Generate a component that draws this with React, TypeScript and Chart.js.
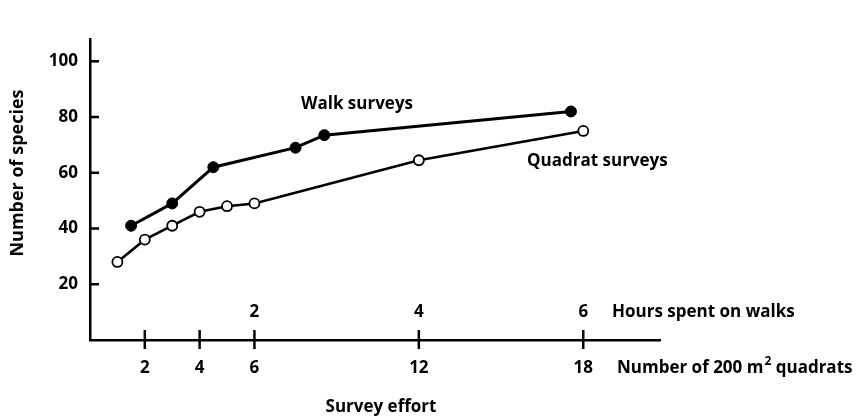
import React, { useEffect, useRef } from "react";
import { Chart, registerables } from "chart.js";

Chart.register(...registerables);

// ---- data ----
const quadratCounts = [1, 2, 3, 4, 5, 6, 12, 18];
const quadratSpecies = [28, 36, 41, 46, 48, 49, 64.5, 75];
const walkHours = [0.5, 1, 1.5, 2.5, 2.85, 5.85];
const walkSpecies = [41, 49, 62, 69, 73.5, 82];
const quadratTicks = [2, 4, 6, 12, 18];
const hourTicks = [2, 4, 6];
const speciesTicks = [20, 40, 60, 80, 100];
const QUADRATS_PER_HOUR = 3;

const FAMILY = "'Open Sans', Lato, sans-serif";
const FS = 17;

const extrasPlugin = {
  id: "extras",
  afterDraw(chart: any) {
    const { ctx, chartArea } = chart;
    const xs = chart.scales.x;
    const ys = chart.scales.y;
    ctx.save();
    ctx.strokeStyle = "#000";
    ctx.fillStyle = "#000";
    ctx.lineWidth = 2.5;
    // y tick marks (inward)
    for (const v of speciesTicks) {
      const y = ys.getPixelForValue(v);
      ctx.beginPath();
      ctx.moveTo(chartArea.left, y);
      ctx.lineTo(chartArea.left + 9, y);
      ctx.stroke();
    }
    // x tick marks (crossing)
    for (const q of quadratTicks) {
      const x = xs.getPixelForValue(q);
      ctx.beginPath();
      ctx.moveTo(x, chartArea.bottom - 10);
      ctx.lineTo(x, chartArea.bottom + 9);
      ctx.stroke();
    }
    ctx.font = `bold ${FS}px ${FAMILY}`;
    ctx.textBaseline = "middle";
    // hours labels
    ctx.textAlign = "center";
    for (const h of hourTicks) {
      const x = xs.getPixelForValue(h * QUADRATS_PER_HOUR);
      ctx.fillText(String(h), x, 312);
    }
    ctx.textAlign = "left";
    ctx.fillText("Hours spent on walks", 612, 312);
    // quadrat axis name with superscript
    let x0 = 617;
    const part1 = "Number of 200 m";
    ctx.fillText(part1, x0, 368);
    x0 += ctx.measureText(part1).width + 1;
    ctx.font = `bold ${Math.round(FS * 0.7)}px ${FAMILY}`;
    ctx.fillText("2", x0, 362);
    x0 += ctx.measureText("2").width;
    ctx.font = `bold ${FS}px ${FAMILY}`;
    ctx.fillText(" quadrats", x0, 368);
    // survey effort
    ctx.textAlign = "center";
    ctx.fillText("Survey effort", 381, 407);
    // series labels
    ctx.textAlign = "left";
    ctx.fillText("Walk surveys", 301, 104);
    ctx.fillText("Quadrat surveys", 527, 161);
    // y title
    ctx.font = `bold 18px ${FAMILY}`;
    ctx.translate(18, 173);
    ctx.rotate(-Math.PI / 2);
    ctx.textAlign = "center";
    ctx.fillText("Number of species", 0, 0);
    ctx.restore();
  },
};

export default function App() {
  const ref = useRef<HTMLCanvasElement>(null);
  useEffect(() => {
    if (!ref.current) return;
    const chart = new Chart(ref.current, {
      type: "line",
      data: {
        datasets: [
          {
            label: "Walk surveys",
            data: walkHours.map((h, i) => ({ x: h * QUADRATS_PER_HOUR, y: walkSpecies[i] })),
            borderColor: "#000",
            borderWidth: 3,
            pointRadius: 5.5,
            pointBackgroundColor: "#000",
            pointBorderColor: "#000",
            pointBorderWidth: 1,
            tension: 0,
          },
          {
            label: "Quadrat surveys",
            data: quadratCounts.map((q, i) => ({ x: q, y: quadratSpecies[i] })),
            borderColor: "#000",
            borderWidth: 2.5,
            pointRadius: 5,
            pointBackgroundColor: "#fff",
            pointBorderColor: "#000",
            pointBorderWidth: 1.8,
            tension: 0,
          },
        ],
      },
      options: {
        animation: false,
        responsive: false,
        maintainAspectRatio: false,
        layout: { padding: { top: 39, right: 203, left: 0, bottom: 0 } },
        plugins: { legend: { display: false }, tooltip: { enabled: false } },
        scales: {
          x: {
            type: "linear",
            min: 0,
            max: 20.8,
            afterBuildTicks: (s: any) => {
              s.ticks = quadratTicks.map((v) => ({ value: v }));
            },
            afterFit: (s: any) => {
              s.height = 79;
            },
            grid: { display: false, drawTicks: false },
            border: { display: true, color: "#000", width: 2.5 },
            ticks: {
              color: "#000",
              font: { family: FAMILY, size: FS, weight: "bold" },
              padding: 18,
              autoSkip: false,
              maxRotation: 0,
            },
          },
          y: {
            type: "linear",
            min: 0,
            max: 108,
            afterBuildTicks: (s: any) => {
              s.ticks = speciesTicks.map((v) => ({ value: v }));
            },
            afterFit: (s: any) => {
              s.width = 90;
            },
            grid: { display: false, drawTicks: false },
            border: { display: true, color: "#000", width: 2.5 },
            ticks: {
              color: "#000",
              font: { family: FAMILY, size: FS, weight: "bold" },
              padding: 12,
            },
          },
        },
      },
      plugins: [extrasPlugin],
    } as any);
    return () => chart.destroy();
  }, []);
  return (
    <div style={{ position: "absolute", left: 0, top: 0, width: 863, height: 419, background: "#fff" }}>
      <canvas ref={ref} width={863} height={419} style={{ display: "block" }} />
    </div>
  );
}
